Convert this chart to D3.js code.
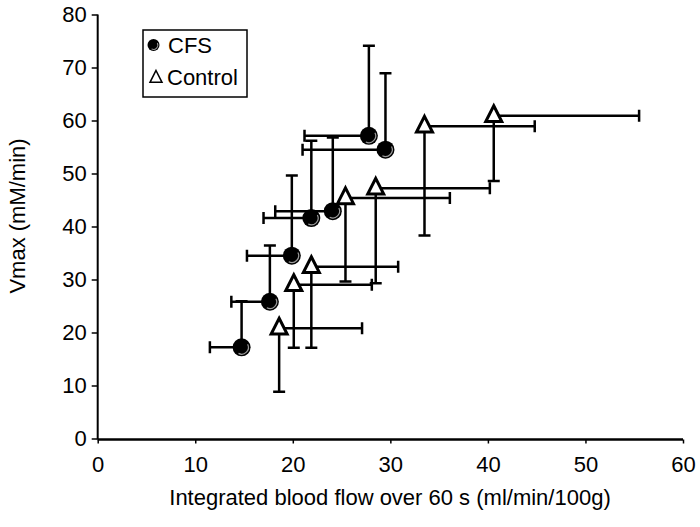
<!DOCTYPE html>
<html>
<head>
<meta charset="utf-8">
<script src="https://cdn.jsdelivr.net/npm/d3@7"></script>
<style>
  body { margin: 0; background: #fff; }
  svg text { font-family: "Liberation Sans", Arial, sans-serif; fill: #000; }
</style>
</head>
<body>
<div id="chart"></div>
<script>
var width = 700,
    height = 527,
    fontSize = 22;

// CFS group (filled circles), error bars go left and up
var cfsX    = [14.75, 17.65, 19.9, 21.9, 24.1, 27.8, 29.5];
var cfsY    = [17.2, 25.8, 34.5, 41.6, 42.9, 57.1, 54.5];
var cfsXLow = [11.5, 13.7, 15.3, 17.0, 18.2, 21.2, 21.0];
var cfsYHigh = [25.9, 36.4, 49.6, 56.2, 56.8, 74.1, 68.9];

// Control group (open triangles), error bars go right and down
var ctrlX    = [18.6, 20.1, 21.9, 25.4, 28.5, 33.5, 40.6];
var ctrlY    = [20.8, 29.0, 32.4, 45.4, 47.2, 58.9, 60.9];
var ctrlXHigh = [27.1, 28.1, 30.8, 36.1, 40.2, 44.8, 55.5];
var ctrlYLow  = [8.8, 17.1, 17.1, 29.6, 29.3, 38.3, 48.6];

var xTicks = [0, 10, 20, 30, 40, 50, 60];
var yTicks = [0, 10, 20, 30, 40, 50, 60, 70, 80];

var x = d3.scaleLinear().domain([0, 60]).range([97.7, 683]);
var y = d3.scaleLinear().domain([0, 80]).range([438.5, 14.5]);

var svg = d3.select("#chart").append("svg")
    .attr("width", width)
    .attr("height", height);

// axes
var yAxis = svg.append("g")
    .attr("transform", "translate(" + x(0) + ",0)")
    .call(d3.axisLeft(y).tickValues(yTicks).tickSize(6).tickPadding(5));
yAxis.select(".domain").attr("stroke-width", 2).attr("d", "M0," + y(80) + "V" + (y(0) + 1));
yAxis.selectAll(".tick line").attr("stroke-width", 1.5);
yAxis.selectAll(".tick text").attr("font-size", fontSize);

var xAxis = svg.append("g")
    .attr("transform", "translate(0," + (y(0) + 1) + ")")
    .call(d3.axisBottom(x).tickValues(xTicks).tickSize(4).tickPadding(13));
xAxis.select(".domain").attr("stroke-width", 2.5).attr("d", "M" + x(0) + ",0H" + x(60));
xAxis.selectAll(".tick line").attr("stroke-width", 1.5);
xAxis.selectAll(".tick text").attr("font-size", fontSize);

// axis titles
svg.append("text")
    .attr("x", 390)
    .attr("y", 505)
    .attr("text-anchor", "middle")
    .attr("font-size", fontSize)
    .text("Integrated blood flow over 60 s (ml/min/100g)");

svg.append("text")
    .attr("transform", "translate(25,216) rotate(-90)")
    .attr("text-anchor", "middle")
    .attr("font-size", fontSize)
    .text("Vmax (mM/min)");

var capHalf = 6;
var bars = svg.append("g")
    .attr("stroke", "#000")
    .attr("stroke-width", 2.5)
    .attr("fill", "none");

// control error bars (right + down)
ctrlX.forEach(function(v, i) {
  var cx = x(v), cy = y(ctrlY[i]);
  bars.append("path").attr("d",
    "M" + cx + "," + cy + "H" + x(ctrlXHigh[i]) +
    "M" + x(ctrlXHigh[i]) + "," + (cy - capHalf) + "V" + (cy + capHalf) +
    "M" + cx + "," + cy + "V" + y(ctrlYLow[i]) +
    "M" + (cx - capHalf) + "," + y(ctrlYLow[i]) + "H" + (cx + capHalf));
});

// CFS error bars (left + up)
cfsX.forEach(function(v, i) {
  var cx = x(v), cy = y(cfsY[i]);
  bars.append("path").attr("d",
    "M" + cx + "," + cy + "H" + x(cfsXLow[i]) +
    "M" + x(cfsXLow[i]) + "," + (cy - capHalf) + "V" + (cy + capHalf) +
    "M" + cx + "," + cy + "V" + y(cfsYHigh[i]) +
    "M" + (cx - capHalf) + "," + y(cfsYHigh[i]) + "H" + (cx + capHalf));
});

function triPath(s) {
  // s = half width
  return "M0," + (-s * 1.25) + "L" + s + "," + (s * 0.72) + "L" + (-s) + "," + (s * 0.72) + "Z";
}

var shine = d3.arc().innerRadius(6.2).outerRadius(7.4)
    .startAngle(Math.PI * 0.35).endAngle(Math.PI * 1.15);

// control markers
svg.append("g").selectAll("path")
    .data(ctrlX)
    .enter().append("path")
    .attr("transform", function(d, i) { return "translate(" + x(d) + "," + y(ctrlY[i]) + ")"; })
    .attr("d", triPath(8))
    .attr("fill", "#fff")
    .attr("stroke", "#000")
    .attr("stroke-width", 3)
    .attr("stroke-linejoin", "miter");

// CFS markers
var dots = svg.append("g").selectAll("g")
    .data(cfsX)
    .enter().append("g")
    .attr("transform", function(d, i) { return "translate(" + x(d) + "," + y(cfsY[i]) + ")"; });
dots.append("circle").attr("r", 9).attr("fill", "#000");
dots.append("path").attr("d", shine()).attr("fill", "#9a9a9a");

// legend
var legend = svg.append("g");
legend.append("rect")
    .attr("x", 143).attr("y", 30)
    .attr("width", 104).attr("height", 67)
    .attr("fill", "#fff")
    .attr("stroke", "#000")
    .attr("stroke-width", 1.5);
legend.append("circle").attr("cx", 153.5).attr("cy", 45).attr("r", 6).attr("fill", "#000");
legend.append("path")
    .attr("transform", "translate(153.5,45)")
    .attr("d", d3.arc().innerRadius(3.8).outerRadius(4.8).startAngle(Math.PI * 0.35).endAngle(Math.PI * 1.15)())
    .attr("fill", "#9a9a9a");
legend.append("text").attr("x", 168).attr("y", 53).attr("font-size", fontSize).text("CFS");
legend.append("path")
    .attr("transform", "translate(156,78)")
    .attr("d", triPath(6))
    .attr("fill", "#fff")
    .attr("stroke", "#000")
    .attr("stroke-width", 1.5);
legend.append("text").attr("x", 167).attr("y", 85).attr("font-size", fontSize).text("Control");
</script>
</body>
</html>
